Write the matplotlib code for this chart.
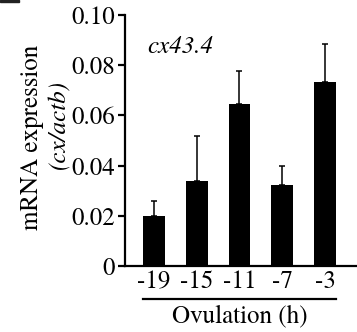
import numpy as np
import matplotlib
matplotlib.use("Agg")
import matplotlib.pyplot as plt
from matplotlib.lines import Line2D
from matplotlib.patches import Rectangle

serif = ['TeX Gyre Termes', 'Liberation Serif', 'DejaVu Serif']
plt.rcParams['font.family'] = serif

# data
hours = ['-19', '-15', '-11', '-7', '-3']
expression = [0.020, 0.034, 0.0644, 0.0324, 0.0734]
sem = [0.006, 0.0178, 0.0134, 0.0076, 0.0149]
yticks = [0, 0.02, 0.04, 0.06, 0.08, 0.10]
ytick_labels = ['0', '0.02', '0.04', '0.06', '0.08', '0.10']

W, H = 357, 332
fig = plt.figure(figsize=(W / 100, H / 100), dpi=100)

def fx(px):
    return px / W

def fy(py):
    return 1 - py / H

ax = fig.add_axes([fx(125), fy(266), fx(357) - fx(125), fy(15) - fy(266)])

x = np.arange(len(hours))
ax.bar(x, expression, width=0.51, color='black', zorder=2)
ax.errorbar(x, expression, yerr=[np.zeros(len(sem)), sem], fmt='none',
            ecolor='black', elinewidth=1.1, capsize=2.5, capthick=1.1, zorder=1)

ax.set_xlim(-0.678, 4.75)
ax.set_ylim(0, 0.10)
ax.set_yticks(yticks)
ax.set_yticklabels(ytick_labels)
ax.set_xticks(x)
ax.set_xticklabels(hours)

for s in ['top', 'right']:
    ax.spines[s].set_visible(False)
for s in ['left', 'bottom']:
    ax.spines[s].set_linewidth(1.6)

ax.tick_params(axis='y', direction='out', length=5, width=1.6, labelsize=18, pad=2)
ax.tick_params(axis='x', length=0, labelsize=18, pad=3)

ax.text(0.095, 0.873, 'cx43.4', transform=ax.transAxes, style='italic',
        fontsize=18, ha='left', va='center')

# y label
fig.text(fx(32), fy(137), 'mRNA expression', rotation=90, fontsize=18,
         ha='center', va='center')
fig.text(fx(59), fy(124), '(cx/actb)', rotation=90, fontsize=18, style='italic',
         ha='center', va='center')

# x label with line above
fig.add_artist(Line2D([fx(143), fx(336)], [fy(299), fy(299)], color='black', lw=1.6))
fig.text(fx(240), fy(316), 'Ovulation (h)', fontsize=18, ha='center', va='center')

# clipped panel letter remnant in corner
fig.add_artist(Rectangle((0, fy(1.5)), fx(19), fy(0) - fy(1.5), color='#222222',
                         transform=fig.transFigure))

fig.savefig('out.png', dpi=100)
